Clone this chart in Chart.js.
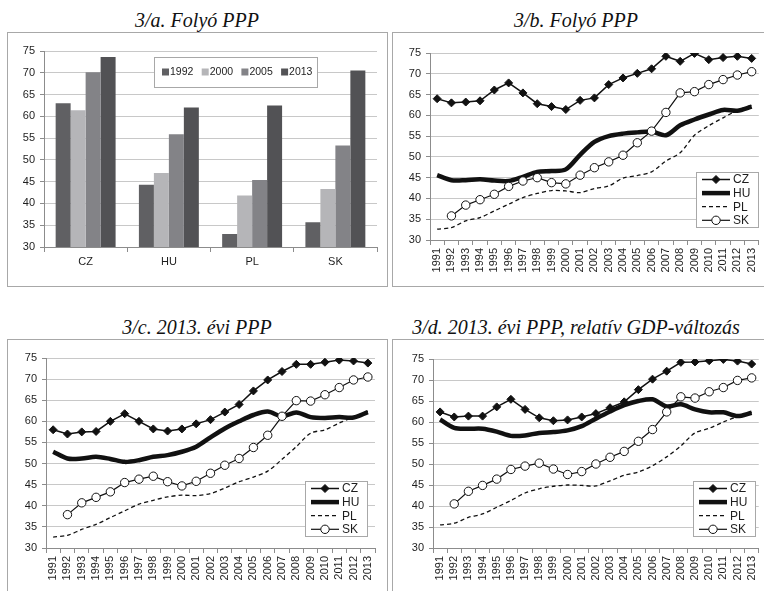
<!DOCTYPE html>
<html>
<head>
<meta charset="utf-8">
<script src="https://cdn.jsdelivr.net/npm/chart.js@4.4.1/dist/chart.umd.min.js"></script>
<style>
  body { margin:0; width:764px; height:591px; overflow:hidden; background:#fff; position:relative; }
  .title { position:absolute; text-align:center; font-family:"Liberation Serif","Times New Roman",serif; font-style:italic; font-size:20px; line-height:20px; color:#111; white-space:nowrap; }
  .frame { position:absolute; border:1px solid #a8a8a8; box-sizing:border-box; }
  .plot { position:absolute; }
</style>
</head>
<body>
<div class="title" style="left:7px;top:10px;width:380px">3/a. Folyó PPP</div>
<div class="title" style="left:392px;top:10px;width:368px">3/b. Folyó PPP</div>
<div class="title" style="left:7px;top:317px;width:380px">3/c. 2013. évi PPP</div>
<div class="title" style="left:392px;top:317px;width:368px">3/d. 2013. évi PPP, relatív GDP-változás</div>

<div class="frame" style="left:7px;top:32px;width:381px;height:255px"></div>
<div class="frame" style="left:392px;top:32px;width:390px;height:255px"></div>
<div class="frame" style="left:7px;top:339px;width:381px;height:270px"></div>
<div class="frame" style="left:392px;top:339px;width:390px;height:270px"></div>

<canvas class="plot" id="ca" width="378" height="252" style="left:8px;top:33px"></canvas>
<canvas class="plot" id="cb" width="375" height="252" style="left:393px;top:33px"></canvas>
<canvas class="plot" id="cc" width="378" height="251" style="left:8px;top:340px"></canvas>
<canvas class="plot" id="cd" width="375" height="251" style="left:393px;top:340px"></canvas>

<script>
// 3/a bars
const countries = ['CZ', 'HU', 'PL', 'SK'];
const barYears = ['1992', '2000', '2005', '2013'];
const bar1992 = [63.0, 44.3, 33.0, 35.7];
const bar2000 = [61.4, 47.0, 41.8, 43.3];
const bar2005 = [70.1, 55.9, 45.4, 53.3];
const bar2013 = [73.6, 62.0, 62.5, 70.5];

// line panels
const years = ['1991','1992','1993','1994','1995','1996','1997','1998','1999','2000','2001','2002',
  '2003','2004','2005','2006','2007','2008','2009','2010','2011','2012','2013'];

// 3/b Folyó PPP
const bCZ = [64.0, 63.0, 63.2, 63.5, 66.1, 67.8, 65.4, 62.8, 62.1, 61.4, 63.6, 64.2, 67.4, 69.0, 70.1, 71.2, 74.2, 73.0, 74.9, 73.4, 73.9, 74.2, 73.7];
const bHU = [45.6, 44.4, 44.4, 44.6, 44.3, 44.2, 45.2, 46.4, 46.6, 47.0, 50.5, 53.6, 55.0, 55.6, 55.9, 56.1, 55.2, 57.6, 59.0, 60.2, 61.3, 61.1, 62.1];
const bPL = [32.6, 33.0, 34.6, 35.4, 37.0, 38.6, 40.2, 41.2, 41.9, 41.8, 41.4, 42.4, 43.0, 44.9, 45.5, 46.4, 49.0, 51.0, 55.2, 57.5, 59.4, 61.2, 62.4];
const bSK = [null, 35.8, 38.4, 39.7, 41.0, 42.9, 44.2, 45.0, 43.8, 43.5, 45.6, 47.4, 48.8, 50.4, 53.4, 56.2, 60.7, 65.4, 65.7, 67.4, 68.6, 69.7, 70.5];

// 3/c 2013. évi PPP
const cCZ = [58.0, 57.0, 57.5, 57.6, 60.0, 61.8, 60.0, 58.2, 57.7, 58.2, 59.4, 60.4, 62.2, 64.0, 67.2, 69.8, 71.8, 73.5, 73.5, 74.0, 74.5, 74.3, 73.8];
const cHU = [52.8, 51.2, 51.2, 51.6, 51.1, 50.4, 50.8, 51.6, 52.0, 52.8, 54.0, 56.2, 58.3, 60.0, 61.5, 62.3, 61.2, 62.1, 61.0, 60.8, 61.0, 60.9, 62.2];
const cPL = [32.6, 33.0, 34.4, 35.6, 37.2, 38.8, 40.4, 41.3, 42.1, 42.5, 42.4, 42.9, 44.2, 45.7, 46.8, 48.2, 51.0, 54.0, 57.2, 58.0, 59.6, 61.0, 62.4];
const cSK = [null, 37.9, 40.7, 42.0, 43.3, 45.5, 46.3, 47.0, 45.7, 44.7, 45.8, 47.7, 49.6, 51.2, 53.8, 56.7, 61.2, 64.9, 64.8, 66.3, 68.0, 69.8, 70.5];

// 3/d 2013. évi PPP, relatív GDP-változás
const dCZ = [62.4, 61.2, 61.4, 61.4, 63.6, 65.4, 63.0, 61.0, 60.3, 60.5, 61.2, 62.0, 63.4, 64.8, 67.7, 70.2, 72.1, 74.2, 74.3, 74.6, 74.9, 74.5, 73.8];
const dHU = [60.6, 58.6, 58.4, 58.4, 57.7, 56.7, 56.8, 57.4, 57.6, 58.0, 59.0, 60.8, 62.5, 64.0, 65.0, 65.4, 63.7, 64.2, 63.0, 62.3, 62.3, 61.4, 62.2];
const dPL = [35.5, 35.9, 37.3, 38.1, 39.7, 41.3, 43.1, 44.1, 44.7, 45.0, 44.9, 44.8, 46.0, 47.3, 48.1, 49.6, 51.7, 54.3, 57.4, 58.5, 60.0, 61.3, 62.3];
const dSK = [null, 40.5, 43.5, 44.9, 46.4, 48.7, 49.5, 50.2, 48.8, 47.5, 48.2, 50.0, 51.6, 53.0, 55.4, 58.2, 62.4, 66.0, 65.7, 67.2, 68.2, 69.9, 70.5];

const ff = '"Liberation Sans", Arial, sans-serif';
const ink = '#1e1e1e';
const axisGray = '#8c8c8c';
Chart.defaults.font.family = ff;
Chart.defaults.color = ink;

// legend box drawn inside the plot, like the Excel original
const boxLegend = {
  id: 'boxLegend',
  afterDatasetsDraw(chart, args, o) {
    const ctx = chart.ctx;
    ctx.save();
    ctx.fillStyle = '#fff';
    ctx.fillRect(o.x, o.y, o.w, o.h);
    ctx.strokeStyle = '#a8a8a8';
    ctx.lineWidth = 1;
    ctx.strokeRect(o.x + 0.5, o.y + 0.5, o.w, o.h);
    ctx.textBaseline = 'middle';
    chart.data.datasets.forEach((ds, i) => {
      if (o.kind === 'bar') {
        const x = o.x + 8 + i * 39.7, y = o.y + o.h / 2;
        ctx.fillStyle = ds.backgroundColor;
        ctx.fillRect(x, y - 3.5, 7, 7);
        ctx.fillStyle = ink;
        ctx.font = '10.5px ' + ff;
        ctx.fillText(ds.label, x + 8, y + 0.5);
        return;
      }
      const y = o.y + 7.5 + i * 13.6;
      const x0 = o.x + 6, x1 = o.x + 34, xm = (x0 + x1) / 2;
      ctx.strokeStyle = ds.borderColor;
      ctx.lineWidth = ds.borderWidth;
      ctx.setLineDash(ds.borderDash || []);
      ctx.beginPath();
      ctx.moveTo(x0, y);
      ctx.lineTo(x1, y);
      ctx.stroke();
      ctx.setLineDash([]);
      if (ds.pointRadius > 0) {
        const r = ds.pointRadius;
        ctx.beginPath();
        if (ds.pointStyle === 'rectRot') {
          ctx.moveTo(xm, y - r); ctx.lineTo(xm + r, y); ctx.lineTo(xm, y + r); ctx.lineTo(xm - r, y);
          ctx.closePath();
        } else {
          ctx.arc(xm, y, r, 0, Math.PI * 2);
        }
        ctx.fillStyle = ds.pointBackgroundColor;
        ctx.fill();
        ctx.lineWidth = ds.pointBorderWidth;
        ctx.strokeStyle = ds.pointBorderColor;
        ctx.stroke();
      }
      ctx.fillStyle = ink;
      ctx.font = '12px ' + ff;
      ctx.fillText(ds.label, o.x + 37, y + 0.5);
    });
    ctx.restore();
  }
};

function yAxis(w) {
  return {
    min: 30, max: 75,
    ticks: { stepSize: 5, color: ink, font: { size: 11 }, padding: 5 },
    grid: { color: '#c8c8c8', tickLength: 4, tickColor: axisGray },
    border: { color: axisGray },
    afterFit(s) { s.width = w; }
  };
}

function xAxis(h, rotate) {
  return {
    offset: true,
    ticks: {
      color: ink, font: { size: 11 }, padding: 3, autoSkip: false,
      minRotation: rotate ? 90 : 0, maxRotation: rotate ? 90 : 0
    },
    grid: { offset: true, drawOnChartArea: false, tickLength: 5, tickColor: axisGray },
    border: { color: axisGray },
    afterFit(s) { s.height = h; }
  };
}

new Chart(document.getElementById('ca'), {
  type: 'bar',
  data: {
    labels: countries,
    datasets: [
      { label: barYears[0], data: bar1992, backgroundColor: '#606063' },
      { label: barYears[1], data: bar2000, backgroundColor: '#b5b5b8' },
      { label: barYears[2], data: bar2005, backgroundColor: '#838387' },
      { label: barYears[3], data: bar2013, backgroundColor: '#525255' }
    ]
  },
  options: {
    responsive: false,
    animation: false,
    categoryPercentage: 0.72,
    barPercentage: 1.0,
    layout: { padding: { left: 0, top: 18, right: 9, bottom: 0 } },
    scales: { x: xAxis(38, false), y: yAxis(36) },
    plugins: {
      legend: { display: false },
      tooltip: { enabled: false },
      boxLegend: { kind: 'bar', x: 146, y: 24, w: 163, h: 30 }
    }
  },
  plugins: [boxLegend]
});

function lineChart(id, cz, hu, pl, sk, box) {
  new Chart(document.getElementById(id), {
    type: 'line',
    data: {
      labels: years,
      datasets: [
        { label: 'CZ', data: cz, borderColor: '#111', borderWidth: 1.5, pointStyle: 'rectRot',
          pointRadius: 4, pointBackgroundColor: '#111', pointBorderColor: '#111', pointBorderWidth: 1, order: 1 },
        { label: 'HU', data: hu, borderColor: '#111', borderWidth: 4.5, pointRadius: 0, tension: 0.3, order: 2 },
        { label: 'PL', data: pl, borderColor: '#111', borderWidth: 1.3, borderDash: [4, 3], pointRadius: 0, tension: 0.3, order: 3 },
        { label: 'SK', data: sk, borderColor: '#111', borderWidth: 1.2, pointStyle: 'circle',
          pointRadius: 4.2, pointBackgroundColor: '#fff', pointBorderColor: '#111', pointBorderWidth: 1, order: 0 }
      ]
    },
    options: {
      responsive: false,
      animation: false,
      layout: { padding: { left: 0, top: box.top, right: box.right, bottom: 0 } },
      scales: { x: xAxis(box.xh, true), y: yAxis(box.yw) },
      plugins: {
        legend: { display: false },
        tooltip: { enabled: false },
        boxLegend: { kind: 'line', x: box.lx, y: box.ly, w: 62, h: 55 }
      }
    },
    plugins: [boxLegend]
  });
}

lineChart('cb', bCZ, bHU, bPL, bSK, { top: 20, right: 6, xh: 45, yw: 37, lx: 303, ly: 139 });
lineChart('cc', cCZ, cHU, cPL, cSK, { top: 18, right: 11, xh: 43, yw: 38, lx: 297, ly: 141 });
lineChart('cd', dCZ, dHU, dPL, dSK, { top: 19, right: 6, xh: 43, yw: 40, lx: 300, ly: 141 });
</script>
</body>
</html>
